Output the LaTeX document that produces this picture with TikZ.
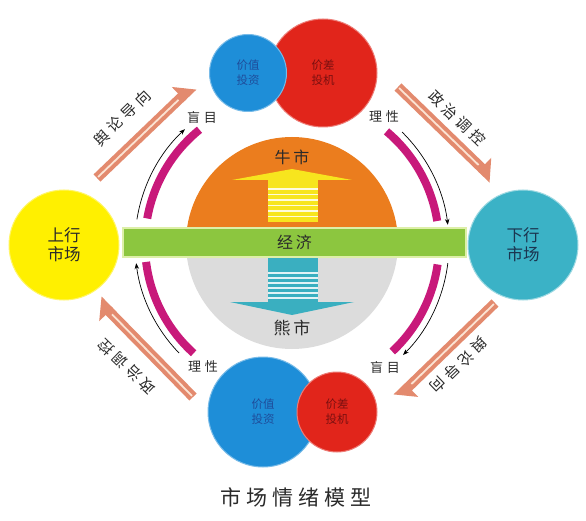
\documentclass[tikz,border=0pt]{standalone}
\usepackage{fontspec}
\newfontfamily\cjk{Noto Sans CJK SC}
\usetikzlibrary{calc,arrows.meta}
\definecolor{orng}{HTML}{EB7D1E}
\definecolor{greyc}{HTML}{DCDCDC}
\definecolor{yarrow}{HTML}{F7E51E}
\definecolor{tarrow}{HTML}{3AAFC0}
\definecolor{gbar}{HTML}{8CC63F}
\definecolor{gbord}{HTML}{DDEFA8}
\definecolor{ycirc}{HTML}{FFF000}
\definecolor{tcirc}{HTML}{3BB2C6}
\definecolor{bcirc}{HTML}{1E8ED8}
\definecolor{rcirc}{HTML}{E1251B}
\definecolor{mag}{HTML}{C8197A}
\definecolor{salmon}{HTML}{E38A6E}
\definecolor{stripe}{HTML}{FBE3D3}
\definecolor{txt}{HTML}{2A2A2A}
\definecolor{dblue}{HTML}{1E4C9A}
\definecolor{dred}{HTML}{7A1010}
\definecolor{navy}{HTML}{1B3550}
\newcommand\halfarrow[2]{%
  \draw[line width=10pt, salmon, shorten >=14pt] (#1) -- (#2);
  \coordinate (hb) at ($(#2)!16pt!(#1)$);
  \fill[salmon] ($(#2)!5pt!90:(#1)$) -- ($(hb)!5pt!90:(#1)$) -- ($(hb)!14pt!-90:(#1)$) -- cycle;
  \draw[line width=1.8pt, stripe, shorten >=20pt, shorten <=1.5pt] (#1) -- (#2);
}
\begin{document}
\begin{tikzpicture}[x=1pt,y=1pt,
  bigcirc/.style={circle, inner sep=0pt, align=center},
  sidetxt/.style={font=\cjk\fontsize{16.5}{19}\selectfont},
  smalltxt/.style={font=\cjk\fontsize{11.5}{15}\selectfont},
  lbl/.style={font=\cjk\fontsize{13}{15}\selectfont, text=txt},
  diagtxt/.style={font=\cjk\fontsize{15}{17}\selectfont, text=txt},
  midtxt/.style={font=\cjk\fontsize{16}{18}\selectfont, text=txt},
  blk/.style={line width=0.7pt, black, -{Stealth[length=6pt,width=4.5pt]}},
  magarc/.style={line width=8pt, mag}]
\useasboundingbox (0,0) rectangle (586,520);
\fill[white] (0,0) rectangle (586,520);
\coordinate (ctr) at (292,276);

% central circle
\begin{scope}
  \clip (292,277) circle (106);
  \fill[greyc] (180,160) rectangle (410,277);
  \fill[orng] (180,277) rectangle (410,390);
\end{scope}

% up arrow
\fill[yarrow] (268,298) rectangle (318,340);
\fill[yarrow] (232,340) -- (352,340) -- (292,351) -- cycle;
\foreach \yy in {331,325.5,320,314.5,309,303.5}
  \draw[white!85!yarrow, line width=1.2pt] (268,\yy) -- (318,\yy);
% down arrow
\fill[tarrow] (268,218) rectangle (318,262);
\fill[tarrow] (230,218) -- (354,218) -- (292,205) -- cycle;
\foreach \yy in {247,242,237,232,227,222}
  \draw[white!85!tarrow, line width=1.2pt] (268,\yy) -- (318,\yy);

\node[midtxt] (bull) at (292,363) {牛\hspace{3pt}市};
\node[midtxt, font=\cjk\fontsize{17}{19}\selectfont] (bear) at (292,192) {熊\hspace{3pt}市};

% green bar
\node[draw=gbord, line width=1.5pt, fill=gbar, minimum width=343pt, minimum height=29pt, inner sep=0pt, midtxt] (econ) at (294.5,277.5) {经\hspace{3pt}济};

% side circles
\node[bigcirc, fill=ycirc, draw=ycirc!60!white, line width=1pt, minimum size=110pt, sidetxt, text=txt] (upm) at (64,275) {上行\\市场};
\node[bigcirc, fill=tcirc, draw=tcirc!50!white, line width=1pt, minimum size=110pt, sidetxt, text=navy] (downm) at (523,275) {下行\\市场};

% top circles
\node[bigcirc, fill=rcirc, draw=rcirc!60!white, line width=1pt, minimum size=108pt, smalltxt, text=dred] (tred) at (323,447) {价差\\投机};
\node[bigcirc, fill=bcirc, draw=bcirc!60!white, line width=1pt, minimum size=77pt, smalltxt, text=dblue] (tblue) at (248,447) {价值\\投资};
% bottom circles
\node[bigcirc, fill=bcirc, draw=bcirc!60!white, line width=1pt, minimum size=110pt, smalltxt, text=dblue] (bblue) at (263,108) {价值\\投资};
\node[bigcirc, fill=rcirc, draw=rcirc!60!white, line width=1pt, minimum size=80pt, smalltxt, text=dred] (bred) at (337,108) {价差\\投机};

% magenta arcs
\draw[magarc] ($(ctr)+(129:147)$) arc[start angle=129, end angle=170, radius=147];
\draw[magarc] ($(ctr)+(9:147)$) arc[start angle=9, end angle=50, radius=147];
\draw[magarc] ($(ctr)+(-47:147)$) arc[start angle=-47, end angle=-8, radius=147];
\draw[magarc] ($(ctr)+(187:147)$) arc[start angle=187, end angle=228, radius=147];
% black arcs
\draw[blk] ($(ctr)+(171:157)$) arc[start angle=171, end angle=133, radius=157];
\draw[blk] ($(ctr)+(45.5:157)$) arc[start angle=45.5, end angle=7, radius=157];
\draw[blk] ($(ctr)+(-7:157)$) arc[start angle=-7, end angle=-45, radius=157];
\draw[blk] ($(ctr)+(224:157)$) arc[start angle=224, end angle=187, radius=157];

\node[lbl] (l1) at (202,403) {盲\hspace{4pt}目};
\node[lbl] (l2) at (384,403) {理\hspace{4pt}性};
\node[lbl] (l3) at (203,153) {理\hspace{4pt}性};
\node[lbl] (l4) at (385,153) {盲\hspace{4pt}目};

% diagonal arrows
\coordinate (a1s) at (97,342);  \coordinate (a1e) at (193,434);
\coordinate (a2s) at (398,433); \coordinate (a2e) at (493,341);
\coordinate (a3s) at (193,123); \coordinate (a3e) at (98,220);
\coordinate (a4s) at (495,217); \coordinate (a4e) at (397,122);
\halfarrow{a1s}{a1e}
\halfarrow{a2s}{a2e}
\halfarrow{a3s}{a3e}
\halfarrow{a4s}{a4e}
\node[diagtxt, rotate=44] (d1) at (122,402) {舆\hspace{4pt}论\hspace{4pt}导\hspace{4pt}向};
\node[diagtxt, rotate=-44] (d2) at (457,402) {政\hspace{4pt}治\hspace{4pt}调\hspace{4pt}控};
\node[diagtxt, rotate=136] (d3) at (127,153) {政\hspace{4pt}治\hspace{4pt}调\hspace{4pt}控};
\node[diagtxt, rotate=224] (d4) at (459,155) {舆\hspace{4pt}论\hspace{4pt}导\hspace{4pt}向};

% title
\node[font=\cjk\fontsize{21}{24}\selectfont, text=txt] (title) at (296,23) {市\hspace{5pt}场\hspace{5pt}情\hspace{5pt}绪\hspace{5pt}模\hspace{5pt}型};
\end{tikzpicture}
\end{document}
